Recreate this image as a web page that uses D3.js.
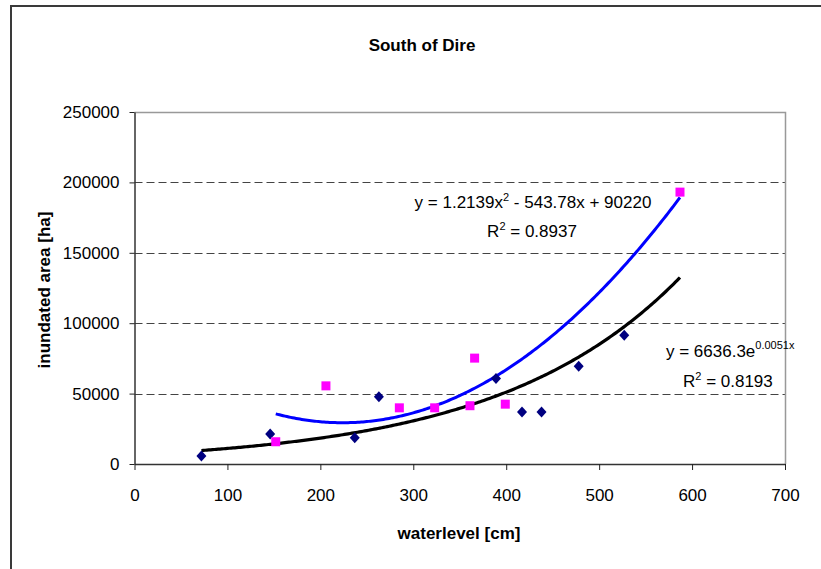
<!DOCTYPE html>
<html>
<head>
<meta charset="utf-8">
<script src="https://cdn.jsdelivr.net/npm/d3@7"></script>
<style>
  body { margin: 0; background: #fff; }
  svg { display: block; font-family: "Liberation Sans", Arial, sans-serif; }
</style>
</head>
<body>
<svg id="chart" width="821" height="569"></svg>
<script>
// navy diamonds
var diamondX = [72, 146, 237, 263, 389, 417, 438, 478, 527];
var diamondY = [5700, 21300, 18700, 47700, 60800, 36900, 36900, 69500, 91500];
// magenta squares
var squareX = [152, 206, 285, 323, 361, 366, 399, 587];
var squareY = [15800, 55500, 39900, 39900, 41400, 75200, 42500, 193100];

// trendlines as printed on the chart
var polyCoef = [1.2139, -543.78, 90220];   // a x^2 + b x + c
var polyRange = [152, 587];
var expCoef = [6636.3, 0.0051];            // a e^(b x)
var expRange = [72, 587];

var xTicks = [0, 100, 200, 300, 400, 500, 600, 700];
var yTicks = [0, 50000, 100000, 150000, 200000, 250000];

(function() {
var svg = d3.select("#chart");
var pLeft = 134.5, pRight = 785, pTop = 112, pBottom = 464;

var x = d3.scaleLinear().domain([0, 700]).range([pLeft, pRight]);
var y = d3.scaleLinear().domain([0, 250000]).range([pBottom, pTop]);

// outer frame
svg.append("rect").attr("x", 11).attr("y", 6).attr("width", 830).attr("height", 600)
  .attr("fill", "none").attr("stroke", "#3a3a3a").attr("stroke-width", 2);

// gridlines
svg.append("g").selectAll("line").data(yTicks.filter(function(d) { return d > 0 && d < 250000; }))
  .enter().append("line")
  .attr("x1", pLeft).attr("x2", pRight)
  .attr("y1", function(d) { return Math.round(y(d)) + 0.5; })
  .attr("y2", function(d) { return Math.round(y(d)) + 0.5; })
  .attr("stroke", "#444").attr("stroke-dasharray", "8,4");

// plot border top/right
svg.append("path")
  .attr("d", "M" + pLeft + "," + (pTop + 0.5) + "H" + (pRight + 0.5) + "V" + pBottom)
  .attr("fill", "none").attr("stroke", "#999").attr("stroke-width", 1.5);

// axes
var yAxis = d3.axisLeft(y).tickValues(yTicks).tickFormat(d3.format("d"))
  .tickSize(5).tickPadding(10).tickSizeOuter(0);
var xAxis = d3.axisBottom(x).tickValues(xTicks).tickFormat(d3.format("d"))
  .tickSize(6).tickPadding(19).tickSizeOuter(0);

var gy = svg.append("g").attr("transform", "translate(" + pLeft + ",0)").call(yAxis);
var gx = svg.append("g").attr("transform", "translate(0," + pBottom + ")").call(xAxis);
[gx, gy].forEach(function(g) {
  g.select(".domain").attr("stroke", "#333").attr("stroke-width", 1.5);
  g.selectAll(".tick line").attr("stroke", "#222");
  g.selectAll("text").attr("font-size", 17).attr("fill", "#000")
    .attr("font-family", "'Liberation Sans', Arial, sans-serif");
});

// trendlines
function curve(fn, range) {
  var pts = [];
  for (var v = range[0]; v <= range[1]; v += 2) pts.push([v, fn(v)]);
  pts.push([range[1], fn(range[1])]);
  return pts;
}
var line = d3.line().x(function(d) { return x(d[0]); }).y(function(d) { return y(d[1]); });

var expPts = curve(function(v) { return expCoef[0] * Math.exp(expCoef[1] * v); }, expRange);
var polyPts = curve(function(v) { return polyCoef[0] * v * v + polyCoef[1] * v + polyCoef[2]; }, polyRange);

svg.append("path").attr("d", line(expPts)).attr("fill", "none")
  .attr("stroke", "#000").attr("stroke-width", 3.2);
svg.append("path").attr("d", line(polyPts)).attr("fill", "none")
  .attr("stroke", "#0000ff").attr("stroke-width", 3);

// markers
svg.append("g").selectAll("path").data(diamondX).enter().append("path")
  .attr("transform", function(d, i) { return "translate(" + x(d) + "," + y(diamondY[i]) + ")"; })
  .attr("d", "M0,-5.5L5,0L0,5.5L-5,0Z")
  .attr("fill", "#000080");
svg.append("g").selectAll("rect").data(squareX).enter().append("rect")
  .attr("x", function(d) { return x(d) - 4.5; })
  .attr("y", function(d, i) { return y(squareY[i]) - 4.5; })
  .attr("width", 9).attr("height", 9)
  .attr("fill", "#ff00ff");

// equation labels
var eq1 = svg.append("text").attr("x", 533).attr("y", 208).attr("text-anchor", "middle")
  .attr("font-size", 17);
eq1.append("tspan").text("y = 1.2139x");
eq1.append("tspan").attr("font-size", 11).attr("dy", -7).text("2");
eq1.append("tspan").attr("dy", 7).text(" - 543.78x + 90220");

var r1 = svg.append("text").attr("x", 532).attr("y", 237).attr("text-anchor", "middle")
  .attr("font-size", 17);
r1.append("tspan").text("R");
r1.append("tspan").attr("font-size", 11).attr("dy", -7).text("2");
r1.append("tspan").attr("dy", 7).text(" = 0.8937");

var eq2 = svg.append("text").attr("x", 666).attr("y", 357).attr("font-size", 17);
eq2.append("tspan").text("y = 6636.3e");
eq2.append("tspan").attr("font-size", 11).attr("dy", -8).text("0.0051x");

var r2 = svg.append("text").attr("x", 683).attr("y", 387).attr("font-size", 17);
r2.append("tspan").text("R");
r2.append("tspan").attr("font-size", 11).attr("dy", -7).text("2");
r2.append("tspan").attr("dy", 7).text(" = 0.8193");

// title and axis titles
svg.append("text").attr("x", 422).attr("y", 51).attr("text-anchor", "middle")
  .attr("font-size", 17).attr("font-weight", "bold").text("South of Dire");
svg.append("text").attr("x", 459).attr("y", 539).attr("text-anchor", "middle")
  .attr("font-size", 17).attr("font-weight", "bold").text("waterlevel [cm]");
svg.append("text").attr("transform", "translate(50,290) rotate(-90)").attr("text-anchor", "middle")
  .attr("font-size", 17).attr("font-weight", "bold").text("inundated area [ha]");
})();
</script>
</body>
</html>
